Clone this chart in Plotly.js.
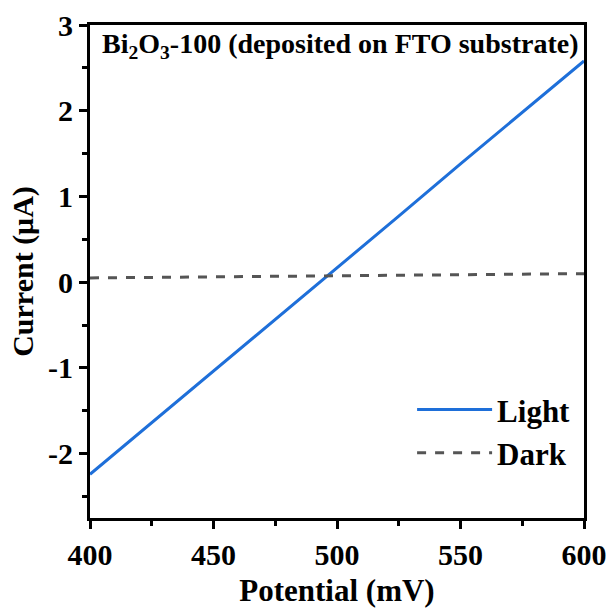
<!DOCTYPE html>
<html>
<head>
<meta charset="utf-8">
<script src="https://cdn.plot.ly/plotly-3.0.1.min.js"></script>
<style>html,body{margin:0;padding:0;background:#fff;}#chart{width:611px;height:614px;}</style>
</head>
<body>
<div id="chart"></div>
<script>
const potential = [400, 425, 450, 475, 500, 525, 550, 575, 600];
const lightCurrent = [-2.24, -1.64, -1.04, -0.44, 0.17, 0.77, 1.38, 1.98, 2.58];
const darkPotential = [400, 450, 500, 550, 600];
const darkCurrent = [0.05, 0.062, 0.075, 0.088, 0.10];
const xTicks = [400, 450, 500, 550, 600];
const yTicks = [-2, -1, 0, 1, 2, 3];

const F = '"Liberation Serif", "Times New Roman", serif';

const traces = [
  {x: potential, y: lightCurrent, type: 'scatter', mode: 'lines', name: '<b>Light</b>',
   line: {color: '#1E6FD9', width: 3}},
  {x: darkPotential, y: darkCurrent, type: 'scatter', mode: 'lines', name: '<b>Dark</b>',
   line: {color: '#555555', width: 3, dash: 'dash'}}
];

const axisCommon = {
  showline: true, linecolor: '#000', linewidth: 3, mirror: true,
  ticks: 'outside', ticklen: 8, tickwidth: 3, tickcolor: '#000',
  showgrid: false, zeroline: false,
  tickfont: {family: F, size: 30, color: '#000', weight: 'bold'}
};

const layout = {
  width: 611, height: 614,
  margin: {l: 90, r: 27, t: 25, b: 96},
  paper_bgcolor: '#fff', plot_bgcolor: '#fff',
  showlegend: true,
  legend: {x: 0.652, y: 0.274, xanchor: 'left', yanchor: 'top',
    font: {family: F, size: 31, color: '#000'}, itemwidth: 75,
    bgcolor: 'rgba(0,0,0,0)', tracegroupgap: 0},
  xaxis: Object.assign({}, axisCommon, {
    range: [400, 600], tickvals: xTicks, ticktext: xTicks.map(String),
    minor: {dtick: 25, tick0: 400, ticks: 'outside', ticklen: 5, tickwidth: 3, tickcolor: '#000'},
    title: {text: '<b>Potential (mV)</b>', font: {family: F, size: 31, color: '#000'}, standoff: 10}
  }),
  yaxis: Object.assign({}, axisCommon, {
    range: [-2.75, 3], tickvals: yTicks, ticktext: yTicks.map(String),
    minor: {dtick: 0.5, tick0: 0, ticks: 'outside', ticklen: 5, tickwidth: 3, tickcolor: '#000'},
    title: {text: '<b>Current (μA)</b>', font: {family: F, size: 30, color: '#000'}, standoff: 6}
  }),
  annotations: [{
    xref: 'paper', yref: 'paper', x: 0.02, y: 0.998, xanchor: 'left', yanchor: 'top',
    showarrow: false,
    text: '<b>Bi<sub>2</sub>O<sub>3</sub>-100 (deposited on FTO substrate)</b>',
    font: {family: F, size: 28, color: '#000'}
  }]
};

Plotly.newPlot('chart', traces, layout, {displayModeBar: false, staticPlot: true});
</script>
</body>
</html>
